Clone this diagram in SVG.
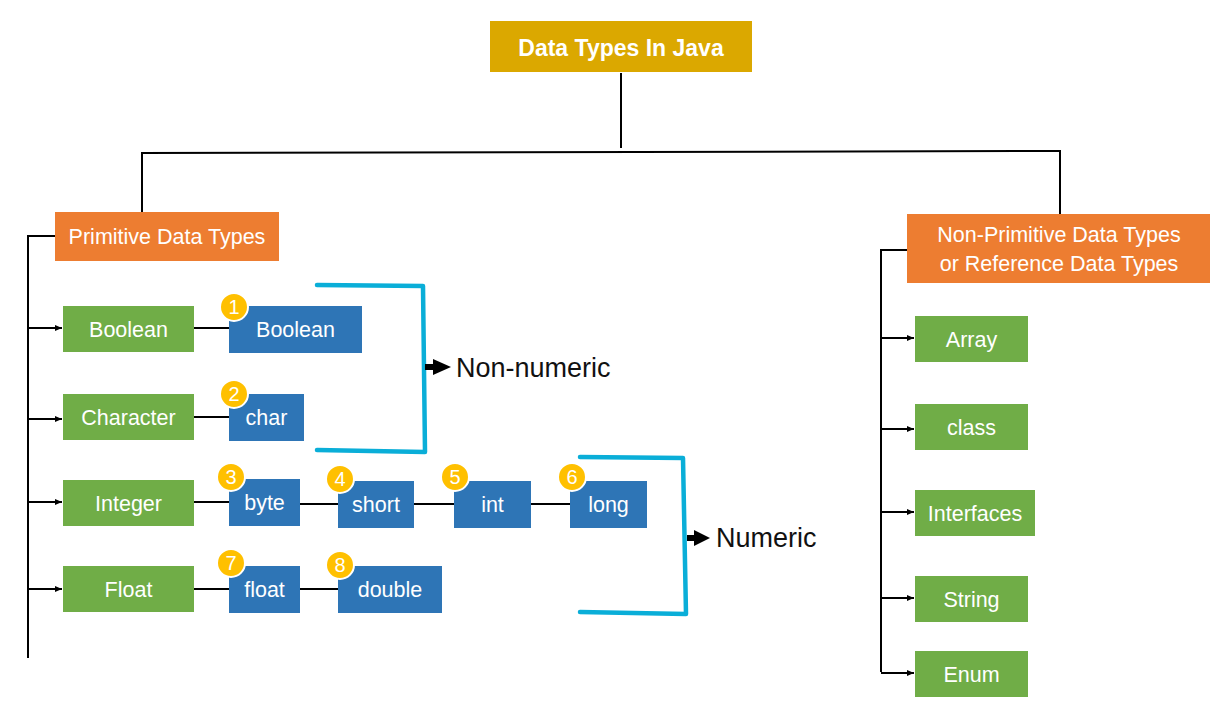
<svg xmlns="http://www.w3.org/2000/svg" width="1210" height="703" viewBox="0 0 1210 703">
<style>
text{font-family:"Liberation Sans",Arial,sans-serif;fill:#fff;text-anchor:middle}
.title{font-weight:bold;font-size:23px}
.lbl{font-size:21.5px}
.orange{fill:#ED7D31}
.green{fill:#70AD47}
.blue{fill:#2E75B6}
.badge circle{fill:#FFC000;stroke:#fff;stroke-width:2}
.badge text{font-size:20px}
.ln{stroke:#000;stroke-width:2;fill:none}
.arr{stroke:#000;stroke-width:2;fill:none;marker-end:url(#ah)}
.br{stroke:#0AAED8;stroke-width:4.5;fill:none;stroke-linecap:round;stroke-linejoin:round}
.cat{font-size:27px;fill:#111;text-anchor:start}
</style>
<defs>
<marker id="ah" markerWidth="8" markerHeight="8" refX="7" refY="4" orient="auto" markerUnits="userSpaceOnUse">
<path d="M0,1 L7,4 L0,7 Z" fill="#000"/>
</marker>
</defs>
<g id="connectors">
<line class="ln" x1="621" y1="73" x2="621" y2="148"/>
<polyline class="ln" points="142,212 142,153 1060,151 1060,214"/>
<polyline class="ln" points="55,236 28,236 28,658"/>
<line class="arr" x1="28" y1="328" x2="62" y2="328"/>
<line class="arr" x1="28" y1="419" x2="62" y2="419"/>
<line class="arr" x1="28" y1="502" x2="62" y2="502"/>
<line class="arr" x1="28" y1="589" x2="62" y2="589"/>
<line class="ln" x1="194" y1="328" x2="229" y2="328"/>
<line class="ln" x1="194" y1="417" x2="229" y2="417"/>
<line class="ln" x1="194" y1="502" x2="229" y2="502"/>
<line class="ln" x1="300" y1="504" x2="338" y2="504"/>
<line class="ln" x1="414" y1="504" x2="454" y2="504"/>
<line class="ln" x1="531" y1="504" x2="570" y2="504"/>
<line class="ln" x1="194" y1="589" x2="229" y2="589"/>
<line class="ln" x1="300" y1="589" x2="338" y2="589"/>
<polyline class="ln" points="907,250 881,250 881,672"/>
<line class="arr" x1="881" y1="338" x2="914" y2="338"/>
<line class="arr" x1="881" y1="429" x2="914" y2="429"/>
<line class="arr" x1="881" y1="512" x2="914" y2="512"/>
<line class="arr" x1="881" y1="598" x2="914" y2="598"/>
<line class="arr" x1="881" y1="673" x2="914" y2="673"/>
<polyline class="br" points="317,285 423,286 425,452 317,450"/>
<polyline class="br" points="580,457 683,458 686,614 580,612"/>
<path d="M425,364 L433,364 L433,359 L451,367 L433,375 L433,370 L425,370 Z" fill="#000"/>
<path d="M687,535 L694,535 L694,530 L710,538 L694,546 L694,541 L687,541 Z" fill="#000"/>
</g>
<g id="title"><rect x="490" y="21" width="262" height="51" fill="#DBA800"/><text class="title" x="621" y="56">Data Types In Java</text></g>
<g id="primitive"><rect class="orange" x="55" y="212" width="224" height="49"/><text class="lbl" x="167" y="244">Primitive Data Types</text></g>
<g id="nonprimitive"><rect class="orange" x="907" y="214" width="303" height="69"/><text class="lbl" x="1059" y="242">Non-Primitive Data Types</text><text class="lbl" x="1059" y="271">or Reference Data Types</text></g>
<g id="g-boolean"><rect class="green" x="63" y="306" width="131" height="46"/><text class="lbl" x="128.5" y="337">Boolean</text></g>
<g id="g-character"><rect class="green" x="63" y="394" width="131" height="46"/><text class="lbl" x="128.5" y="425">Character</text></g>
<g id="g-integer"><rect class="green" x="63" y="480" width="131" height="46"/><text class="lbl" x="128.5" y="511">Integer</text></g>
<g id="g-float"><rect class="green" x="63" y="566" width="131" height="46"/><text class="lbl" x="128.5" y="597">Float</text></g>
<g id="b-boolean"><rect class="blue" x="229" y="306" width="133" height="47"/><text class="lbl" x="295.5" y="337">Boolean</text></g>
<g id="b-char"><rect class="blue" x="229" y="394" width="75" height="47"/><text class="lbl" x="266.5" y="425">char</text></g>
<g id="b-byte"><rect class="blue" x="229" y="479" width="71" height="47"/><text class="lbl" x="264.5" y="510">byte</text></g>
<g id="b-short"><rect class="blue" x="338" y="481" width="76" height="47"/><text class="lbl" x="376" y="512">short</text></g>
<g id="b-int"><rect class="blue" x="454" y="481" width="77" height="47"/><text class="lbl" x="492.5" y="512">int</text></g>
<g id="b-long"><rect class="blue" x="570" y="481" width="77" height="47"/><text class="lbl" x="608.5" y="512">long</text></g>
<g id="b-float"><rect class="blue" x="229" y="566" width="71" height="47"/><text class="lbl" x="264.5" y="597">float</text></g>
<g id="b-double"><rect class="blue" x="338" y="566" width="104" height="47"/><text class="lbl" x="390" y="597">double</text></g>
<g class="badge" id="badge1"><circle cx="234" cy="307" r="14"/><text x="234" y="314">1</text></g>
<g class="badge" id="badge2"><circle cx="234" cy="394" r="14"/><text x="234" y="401">2</text></g>
<g class="badge" id="badge3"><circle cx="231" cy="477" r="14"/><text x="231" y="484">3</text></g>
<g class="badge" id="badge4"><circle cx="340" cy="479" r="14"/><text x="340" y="486">4</text></g>
<g class="badge" id="badge5"><circle cx="455" cy="477" r="14"/><text x="455" y="484">5</text></g>
<g class="badge" id="badge6"><circle cx="572" cy="477" r="14"/><text x="572" y="484">6</text></g>
<g class="badge" id="badge7"><circle cx="231" cy="563" r="14"/><text x="231" y="570">7</text></g>
<g class="badge" id="badge8"><circle cx="340" cy="565" r="14"/><text x="340" y="572">8</text></g>
<g id="nonnumeric"><text class="cat" x="456" y="377">Non-numeric</text></g>
<g id="numeric"><text class="cat" x="716" y="547">Numeric</text></g>
<g id="n-array"><rect class="green" x="915" y="316" width="113" height="46"/><text class="lbl" x="971.5" y="347">Array</text></g>
<g id="n-class"><rect class="green" x="915" y="404" width="113" height="46"/><text class="lbl" x="971.5" y="435">class</text></g>
<g id="n-interfaces"><rect class="green" x="915" y="490" width="120" height="46"/><text class="lbl" x="975" y="521">Interfaces</text></g>
<g id="n-string"><rect class="green" x="915" y="576" width="113" height="46"/><text class="lbl" x="971.5" y="607">String</text></g>
<g id="n-enum"><rect class="green" x="915" y="651" width="113" height="46"/><text class="lbl" x="971.5" y="682">Enum</text></g>
</svg>
